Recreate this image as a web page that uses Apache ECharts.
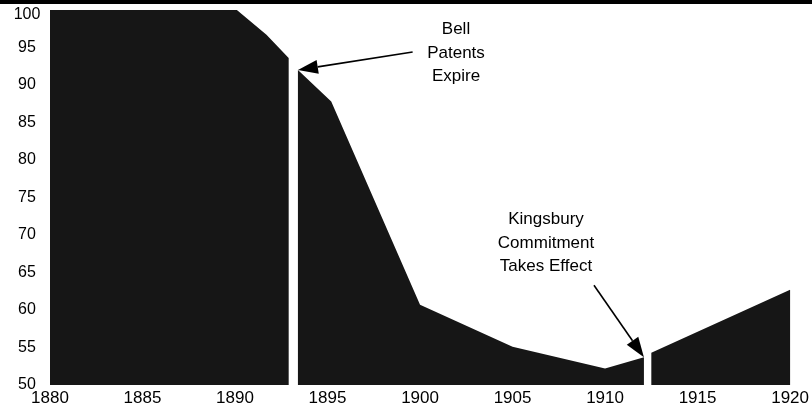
<!DOCTYPE html>
<html>
<head>
<meta charset="utf-8">
<script src="https://cdn.jsdelivr.net/npm/echarts@6/dist/echarts.min.js"></script>
<style>
  html, body { margin: 0; padding: 0; background: #fff; }
  #chart { width: 812px; height: 408px; }
</style>
</head>
<body>
<div id="chart"></div>
<script>
  // year / share (%) -- null marks the breaks in the area
  var years = [1880, 1890.1, 1891.7, 1892.9, 1893.2, 1893.4, 1895.2, 1900, 1905, 1910, 1912.1, 1912.3, 1912.5, 1920];
  var share = [100, 100, 96.7, 93.6, null, 92.0, 87.8, 60.7, 55.1, 52.2, 53.7, null, 54.3, 62.7];

  var xTicks = { min: 1880, max: 1920, step: 5 };
  var yTicks = { min: 50, max: 100, step: 5 };

  // annotations: text and arrow [from, to] in data units
  var bellText = 'Bell\nPatents\nExpire';
  var bellArrow = [[1899.6, 94.4], [1893.4, 92.0]];
  var kingText = 'Kingsbury\nCommitment\nTakes Effect';
  var kingArrow = [[1909.4, 63.3], [1912.1, 53.7]];

  var font = '"Liberation Sans", Arial, Helvetica, sans-serif';

  var chart = echarts.init(document.getElementById('chart'));

  var seriesData = years.map(function (y, i) {
    return [y, share[i] == null ? '-' : share[i]];
  });

  chart.setOption({
    animation: false,
    grid: { left: 50, right: 20, top: 10, bottom: 23 },
    xAxis: {
      type: 'value',
      min: xTicks.min,
      max: xTicks.max,
      interval: xTicks.step,
      axisLine: { show: false },
      axisTick: { show: false },
      splitLine: { show: false },
      axisLabel: {
        color: '#000', fontSize: 17, fontFamily: font, margin: 5,
        formatter: function (v) { return String(v); }
      }
    },
    yAxis: {
      type: 'value',
      min: yTicks.min,
      max: yTicks.max,
      interval: yTicks.step,
      axisLine: { show: false },
      axisTick: { show: false },
      splitLine: { show: false },
      axisLabel: {
        color: '#000', fontSize: 16, fontFamily: font, margin: 23, align: 'center',
        // top label sits just under the rule
        formatter: function (v) { return v === yTicks.max ? '{top|' + v + '}' : String(v); },
        rich: { top: { fontSize: 16, fontFamily: font, color: '#000', padding: [10, 0, 0, 0] } }
      }
    },
    series: [{
      type: 'line',
      data: seriesData,
      showSymbol: false,
      connectNulls: false,
      lineStyle: { width: 0 },
      areaStyle: { color: '#161616', opacity: 1 }
    }]
  });

  // arrows built through the axes
  function arrow(seg) {
    var p0 = chart.convertToPixel({ gridIndex: 0 }, seg[0]);
    var p1 = chart.convertToPixel({ gridIndex: 0 }, seg[1]);
    var dx = p1[0] - p0[0], dy = p1[1] - p0[1];
    var len = Math.sqrt(dx * dx + dy * dy);
    var ux = dx / len, uy = dy / len;
    var headL = 20, headW = 7;
    var bx = p1[0] - ux * headL, by = p1[1] - uy * headL;
    return [{
      type: 'line',
      shape: { x1: p0[0], y1: p0[1], x2: bx, y2: by },
      style: { stroke: '#000', lineWidth: 1.6 }
    }, {
      type: 'polygon',
      shape: { points: [[p1[0], p1[1]], [bx - uy * headW, by + ux * headW], [bx + uy * headW, by - ux * headW]] },
      style: { fill: '#000' }
    }];
  }

  chart.setOption({
    graphic: [
      { type: 'rect', shape: { x: 0, y: 0, width: 812, height: 4 }, style: { fill: '#000' } },
      {
        type: 'text', x: 456, y: 18,
        style: { text: bellText, fill: '#000', font: '17px ' + font, lineHeight: 23.5, align: 'center', verticalAlign: 'top' }
      },
      {
        type: 'text', x: 546, y: 208,
        style: { text: kingText, fill: '#000', font: '17px ' + font, lineHeight: 23.5, align: 'center', verticalAlign: 'top' }
      }
    ].concat(arrow(bellArrow), arrow(kingArrow))
  });
</script>
</body>
</html>
